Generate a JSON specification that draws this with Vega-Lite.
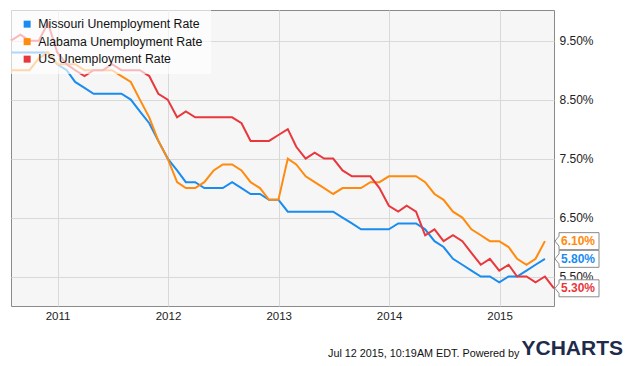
{
  "$schema": "https://vega.github.io/schema/vega-lite/v6.json",
  "width": 543,
  "height": 296,
  "autosize": {"type": "none"},
  "padding": {"left": 11, "top": 10, "right": 81, "bottom": 60},
  "background": "#ffffff",
  "config": {
    "view": {"fill": "#f6f6f6", "stroke": "#8a8a8a", "strokeWidth": 1},
    "font": "Liberation Sans",
    "axis": {"gridColor": "#d9d9d9", "gridWidth": 1, "domain": false, "ticks": false, "tickSize": 0, "labelFont": "Liberation Sans", "labelColor": "#222222"}
  },
  "title": {"text": "YCHARTS", "orient": "bottom", "anchor": "end", "frame": "group", "fontSize": 21, "fontWeight": "bold", "font": "Liberation Sans", "color": "#1e2b4b", "dx": 69, "offset": 0, "dy": -20},
  "data": {
    "values": [
      {"date": "2010-07-31", "Missouri": 0.093, "Alabama": 0.090, "US": 0.095},
      {"date": "2010-08-31", "Missouri": 0.093, "Alabama": 0.090, "US": 0.096},
      {"date": "2010-09-30", "Missouri": 0.093, "Alabama": 0.090, "US": 0.095},
      {"date": "2010-10-31", "Missouri": 0.093, "Alabama": 0.092, "US": 0.095},
      {"date": "2010-11-30", "Missouri": 0.093, "Alabama": 0.093, "US": 0.098},
      {"date": "2010-12-31", "Missouri": 0.091, "Alabama": 0.091, "US": 0.093},
      {"date": "2011-01-31", "Missouri": 0.090, "Alabama": 0.091, "US": 0.091},
      {"date": "2011-02-28", "Missouri": 0.088, "Alabama": 0.091, "US": 0.090},
      {"date": "2011-03-31", "Missouri": 0.087, "Alabama": 0.090, "US": 0.089},
      {"date": "2011-04-30", "Missouri": 0.086, "Alabama": 0.090, "US": 0.090},
      {"date": "2011-05-31", "Missouri": 0.086, "Alabama": 0.090, "US": 0.090},
      {"date": "2011-06-30", "Missouri": 0.086, "Alabama": 0.090, "US": 0.091},
      {"date": "2011-07-31", "Missouri": 0.086, "Alabama": 0.089, "US": 0.090},
      {"date": "2011-08-31", "Missouri": 0.085, "Alabama": 0.088, "US": 0.090},
      {"date": "2011-09-30", "Missouri": 0.083, "Alabama": 0.085, "US": 0.090},
      {"date": "2011-10-31", "Missouri": 0.081, "Alabama": 0.082, "US": 0.089},
      {"date": "2011-11-30", "Missouri": 0.078, "Alabama": 0.078, "US": 0.086},
      {"date": "2011-12-31", "Missouri": 0.075, "Alabama": 0.075, "US": 0.085},
      {"date": "2012-01-31", "Missouri": 0.073, "Alabama": 0.071, "US": 0.082},
      {"date": "2012-02-29", "Missouri": 0.071, "Alabama": 0.070, "US": 0.083},
      {"date": "2012-03-31", "Missouri": 0.071, "Alabama": 0.070, "US": 0.082},
      {"date": "2012-04-30", "Missouri": 0.070, "Alabama": 0.071, "US": 0.082},
      {"date": "2012-05-31", "Missouri": 0.070, "Alabama": 0.073, "US": 0.082},
      {"date": "2012-06-30", "Missouri": 0.070, "Alabama": 0.074, "US": 0.082},
      {"date": "2012-07-31", "Missouri": 0.071, "Alabama": 0.074, "US": 0.082},
      {"date": "2012-08-31", "Missouri": 0.070, "Alabama": 0.073, "US": 0.081},
      {"date": "2012-09-30", "Missouri": 0.069, "Alabama": 0.071, "US": 0.078},
      {"date": "2012-10-31", "Missouri": 0.069, "Alabama": 0.070, "US": 0.078},
      {"date": "2012-11-30", "Missouri": 0.068, "Alabama": 0.068, "US": 0.078},
      {"date": "2012-12-31", "Missouri": 0.068, "Alabama": 0.068, "US": 0.079},
      {"date": "2013-01-31", "Missouri": 0.066, "Alabama": 0.075, "US": 0.080},
      {"date": "2013-02-28", "Missouri": 0.066, "Alabama": 0.074, "US": 0.077},
      {"date": "2013-03-31", "Missouri": 0.066, "Alabama": 0.072, "US": 0.075},
      {"date": "2013-04-30", "Missouri": 0.066, "Alabama": 0.071, "US": 0.076},
      {"date": "2013-05-31", "Missouri": 0.066, "Alabama": 0.070, "US": 0.075},
      {"date": "2013-06-30", "Missouri": 0.066, "Alabama": 0.069, "US": 0.075},
      {"date": "2013-07-31", "Missouri": 0.065, "Alabama": 0.070, "US": 0.073},
      {"date": "2013-08-31", "Missouri": 0.064, "Alabama": 0.070, "US": 0.072},
      {"date": "2013-09-30", "Missouri": 0.063, "Alabama": 0.070, "US": 0.072},
      {"date": "2013-10-31", "Missouri": 0.063, "Alabama": 0.071, "US": 0.072},
      {"date": "2013-11-30", "Missouri": 0.063, "Alabama": 0.071, "US": 0.070},
      {"date": "2013-12-31", "Missouri": 0.063, "Alabama": 0.072, "US": 0.067},
      {"date": "2014-01-31", "Missouri": 0.064, "Alabama": 0.072, "US": 0.066},
      {"date": "2014-02-28", "Missouri": 0.064, "Alabama": 0.072, "US": 0.067},
      {"date": "2014-03-31", "Missouri": 0.064, "Alabama": 0.072, "US": 0.066},
      {"date": "2014-04-30", "Missouri": 0.063, "Alabama": 0.071, "US": 0.062},
      {"date": "2014-05-31", "Missouri": 0.061, "Alabama": 0.069, "US": 0.063},
      {"date": "2014-06-30", "Missouri": 0.060, "Alabama": 0.068, "US": 0.061},
      {"date": "2014-07-31", "Missouri": 0.058, "Alabama": 0.066, "US": 0.062},
      {"date": "2014-08-31", "Missouri": 0.057, "Alabama": 0.065, "US": 0.061},
      {"date": "2014-09-30", "Missouri": 0.056, "Alabama": 0.063, "US": 0.059},
      {"date": "2014-10-31", "Missouri": 0.055, "Alabama": 0.062, "US": 0.057},
      {"date": "2014-11-30", "Missouri": 0.055, "Alabama": 0.061, "US": 0.058},
      {"date": "2014-12-31", "Missouri": 0.054, "Alabama": 0.061, "US": 0.056},
      {"date": "2015-01-31", "Missouri": 0.055, "Alabama": 0.060, "US": 0.057},
      {"date": "2015-02-28", "Missouri": 0.055, "Alabama": 0.058, "US": 0.055},
      {"date": "2015-03-31", "Missouri": 0.056, "Alabama": 0.057, "US": 0.055},
      {"date": "2015-04-30", "Missouri": 0.057, "Alabama": 0.058, "US": 0.054},
      {"date": "2015-05-31", "Missouri": 0.058, "Alabama": 0.061, "US": 0.055},
      {"date": "2015-06-30", "US": 0.053}
    ]
  },
  "transform": [
    {"fold": ["Missouri", "Alabama", "US"], "as": ["series", "rate"]},
    {"filter": "isValid(datum.rate)"}
  ],
  "encoding": {
    "y": {
      "field": "rate", "type": "quantitative",
      "scale": {"domain": [0.05, 0.1002], "nice": false, "zero": false},
      "axis": {"orient": "right", "values": [0.055, 0.065, 0.075, 0.085, 0.095], "format": ".2%", "labelFontSize": 12, "labelPadding": 5, "title": null, "zindex": 0}
    }
  },
  "layer": [
    {
      "mark": {"type": "line", "strokeWidth": 2},
      "encoding": {
        "x": {
          "field": "date", "type": "temporal",
          "scale": {"type": "utc", "domain": [{"year": 2010, "month": 7, "date": 31, "utc": true}, {"year": 2015, "month": 6, "date": 30, "utc": true}]},
          "axis": {
            "values": [{"year": 2011, "month": 1, "date": 1, "utc": true}, {"year": 2012, "month": 1, "date": 1, "utc": true}, {"year": 2013, "month": 1, "date": 1, "utc": true}, {"year": 2014, "month": 1, "date": 1, "utc": true}, {"year": 2015, "month": 1, "date": 1, "utc": true}],
            "format": "%Y", "labelFontSize": 11.5, "labelPadding": 4,
            "title": "Jul 12 2015, 10:19AM EDT.  Powered by",
            "titleFontSize": 10.8, "titleFontWeight": "normal", "titleColor": "#111111", "titleFont": "Liberation Sans",
            "titleAnchor": "end", "titleAlign": "right", "titleBaseline": "alphabetic", "titleX": 508, "titleY": 50
          }
        },
        "color": {
          "field": "series", "type": "nominal",
          "scale": {"domain": ["Missouri", "Alabama", "US"], "range": ["#1a8cf0", "#ff8a0d", "#e8383d"]},
          "legend": {
            "title": null, "orient": "top-left", "offset": 0, "padding": 8,
            "fillColor": "rgba(255,255,255,0.65)", "symbolType": "square", "symbolSize": 49, "symbolOffset": 2,
            "labelFontSize": 12.3, "labelFont": "Liberation Sans", "labelColor": "#111111", "labelOffset": 5,
            "rowPadding": 4.5, "labelLimit": 300, "labelExpr": "datum.label + ' Unemployment Rate'", "zindex": 1,
            "encode": {"symbols": {"update": {"fill": {"scale": "color", "field": "value"}, "stroke": {"value": "transparent"}, "strokeWidth": {"value": 0}, "opacity": {"value": 1}}}}
          }
        }
      }
    },
    {
      "transform": [
        {"window": [{"op": "rank", "as": "rk"}], "sort": [{"field": "date", "order": "descending"}], "groupby": ["series"]},
        {"filter": "datum.rk == 1"}
      ],
      "mark": {"type": "point", "shape": "M-1,0L-0.818,-0.227L-0.818,-0.386L1,-0.386L1,0.386L-0.818,0.386L-0.818,0.227Z", "size": 1936, "filled": true, "fill": "#ffffff", "stroke": "#8a8a8a", "strokeWidth": 1, "opacity": 1, "xOffset": 23},
      "encoding": {
        "x": {"datum": {"year": 2015, "month": 6, "date": 30, "utc": true}, "type": "temporal"}
      }
    },
    {
      "transform": [
        {"window": [{"op": "rank", "as": "rk"}], "sort": [{"field": "date", "order": "descending"}], "groupby": ["series"]},
        {"filter": "datum.rk == 1"}
      ],
      "mark": {"type": "text", "fontWeight": "bold", "fontSize": 12, "align": "center", "baseline": "middle", "xOffset": 24, "font": "Liberation Sans"},
      "encoding": {
        "x": {"datum": {"year": 2015, "month": 6, "date": 30, "utc": true}, "type": "temporal"},
        "text": {"field": "rate", "type": "quantitative", "format": ".2%"},
        "color": {"field": "series", "type": "nominal", "legend": null}
      }
    }
  ]
}
